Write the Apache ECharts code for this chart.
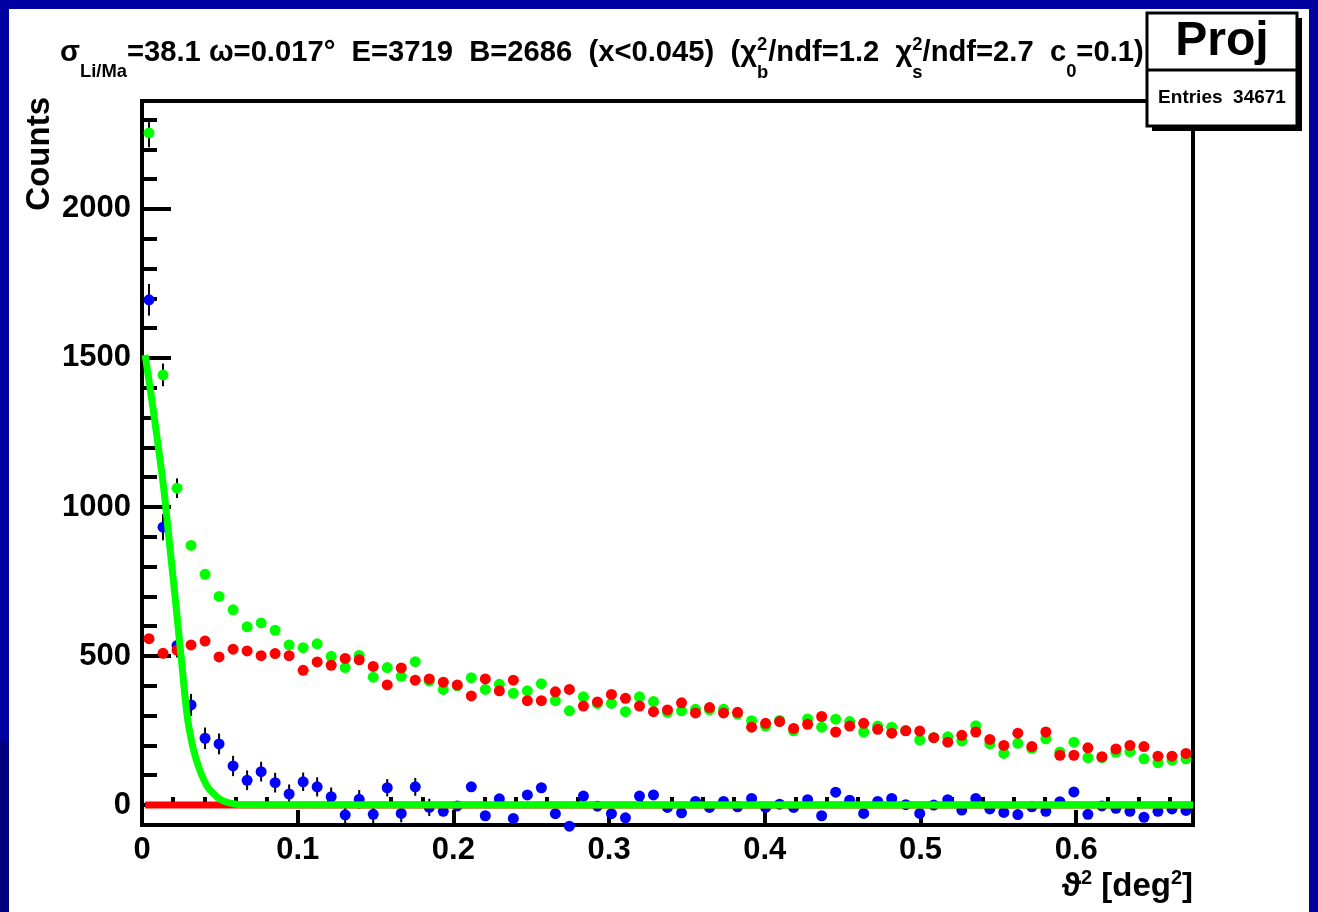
<!DOCTYPE html>
<html>
<head>
<meta charset="utf-8">
<script src="https://cdn.jsdelivr.net/npm/echarts@6/dist/echarts.min.js"></script>
<style>
  html, body { margin: 0; padding: 0; background: #0000a0; }
  #chart { width: 1318px; height: 912px; }
</style>
</head>
<body>
<div id="chart"></div>
<script>
// theta^2 distribution, 75 bins of 0.009 deg^2 from 0 to 0.675
const binWidth = 0.009;
const binStart = 0;

// green: on-source counts
const onCounts = [
  2255, 1443, 1063, 871, 774, 700, 655, 598, 611, 586,
  537, 528, 541, 499, 461, 502, 429, 461, 432, 481,
  416, 388, 400, 427, 388, 405, 375, 383, 407, 350,
  316, 363, 340, 341, 313, 363, 347, 311, 316, 321,
  319, 321, 305, 283, 265, 284, 249, 289, 261, 288,
  280, 245, 265, 261, 250, 218, 226, 229, 215, 266,
  205, 173, 207, 190, 222, 178, 211, 159, 159, 177,
  179, 155, 142, 151, 155
];
// red: background (off) counts
const offCounts = [
  558, 509, 520, 537, 550, 497, 523, 517, 501, 508,
  501, 452, 480, 469, 492, 487, 465, 403, 460, 419,
  423, 412, 403, 366, 423, 383, 419, 350, 350, 380,
  388, 332, 346, 371, 358, 332, 313, 319, 343, 309,
  327, 309, 311, 261, 274, 280, 257, 271, 297, 245,
  265, 274, 254, 241, 249, 248, 226, 211, 234, 245,
  220, 200, 241, 196, 245, 167, 167, 192, 162, 188,
  200, 196, 164, 164, 173
];
// blue: excess
const excessCounts = [
  1695, 932, 535, 336, 224, 205, 131, 83, 112, 75,
  37, 78, 61, 28, -33, 19, -31, 58, -28, 61,
  -8, -21, -3, 61, -36, 21, -45, 34, 58, -29,
  -71, 30, -4, -29, -43, 30, 34, -8, -26, 12,
  -8, 12, -6, 22, -8, 3, -8, 18, -36, 43,
  16, -28, 12, 22, 1, -28, 0, 18, -17, 22,
  -13, -25, -32, -6, -21, 11, 44, -31, -3, -11,
  -21, -41, -21, -13, -18
];
// visible error bars (first bins only)
const onErrors = [48, 38, 33];
const excessErrors = [
  53, 44, 40, 37, 36, 35, 34, 33, 33, 33,
  32, 31, 32, 31, 31, 31, 30, 29, 30, 30, 29
];

// fitted curves
const fitX = [0.002, 0.006, 0.010, 0.014, 0.018, 0.022, 0.026, 0.029, 0.032, 0.035,
              0.038, 0.042, 0.046, 0.050, 0.054, 0.058, 0.064, 0.675];
const fitTotal = [1510, 1370, 1220, 1060, 860, 660, 450, 300, 210, 150,
                  105, 62, 38, 20, 10, 5, 1, 0];
const fitBgX = [0.002, 0.675];
const fitBg = [0, 0];

const xMajor = [0, 0.1, 0.2, 0.3, 0.4, 0.5, 0.6];
const xMinor = [0.02, 0.04, 0.06, 0.08, 0.12, 0.14, 0.16, 0.18, 0.22, 0.24, 0.26, 0.28,
                0.32, 0.34, 0.36, 0.38, 0.42, 0.44, 0.46, 0.48, 0.52, 0.54, 0.56, 0.58,
                0.62, 0.64, 0.66];
const yMajor = [0, 500, 1000, 1500, 2000];
const yMinor = [100, 200, 300, 400, 600, 700, 800, 900, 1100, 1200, 1300, 1400,
                1600, 1700, 1800, 1900, 2100, 2200, 2300];

const FONT = '"Liberation Sans", Arial, sans-serif';

const binCenter = i => binStart + (i + 0.5) * binWidth;
const points = arr => arr.map((v, i) => [binCenter(i), v]);
const errBars = (vals, errs) => errs.map((e, i) => [binCenter(i), vals[i] - e, vals[i] + e]);

const measureCtx = document.createElement('canvas').getContext('2d');
function textWidth(t, size) {
  measureCtx.font = 'bold ' + size + 'px ' + FONT;
  return measureCtx.measureText(t).width;
}
// lay out a row of text pieces; a piece is [text, size, dy] or a stacked list of them
function textRun(pieces, x, baseline) {
  const els = [];
  let cx = x;
  pieces.forEach(p => {
    const stack = Array.isArray(p[0]) ? p : [p];
    let w = 0;
    stack.forEach(([t, size, dy]) => {
      els.push({
        type: 'text', x: cx, y: baseline + dy + 0.2 * size, z: 20,
        style: { text: t, font: 'bold ' + size + 'px ' + FONT, fill: '#000',
                 align: 'left', verticalAlign: 'bottom' }
      });
      w = Math.max(w, textWidth(t, size));
    });
    cx += w;
  });
  return { els, width: cx - x };
}

const F = 29.2, f = 18.4;
const titleRow = textRun([
  ['σ', F, 0], ['Li/Ma', f, 15],
  ['=38.1 ω=0.017°  E=3719  B=2686  (x<0.045)  (χ', F, 0],
  [['2', f, -12], ['b', f, 16]],
  ['/ndf=1.2  χ', F, 0],
  [['2', f, -12], ['s', f, 16]],
  ['/ndf=2.7  c', F, 0], ['0', f, 15], ['=0.1)', F, 0]
], 60, 62);

const XF = 33, xf = 20;
const xTitlePieces = [['ϑ', XF, 0], ['2', xf, -13], [' [deg', XF, 0], ['2', xf, -13], [']', XF, 0]];
const xTitleW = textRun(xTitlePieces, 0, 0).width;
const xTitleRow = textRun(xTitlePieces, 1193 - xTitleW, 897);

const chart = echarts.init(document.getElementById('chart'));

const tickStyle = { color: '#000', width: 4 };
const labelStyle = { color: '#000', fontSize: 31, fontWeight: 'bold', fontFamily: FONT };

chart.setOption({
  animation: false,
  backgroundColor: '#0000a0',
  grid: {
    left: 142, top: 101, width: 1051, height: 724,
    show: true, borderColor: '#000', borderWidth: 4, backgroundColor: 'transparent'
  },
  xAxis: [{
    type: 'value', min: 0, max: 0.675,
    axisLine: { show: true, onZero: false, lineStyle: tickStyle },
    axisTick: { show: true, inside: true, length: 15, lineStyle: tickStyle, customValues: xMajor },
    axisLabel: Object.assign({ margin: 10, customValues: xMajor,
      formatter: v => (v === 0 ? '0' : String(+v.toFixed(1))) }, labelStyle),
    splitLine: { show: false }
  }, {
    type: 'value', min: 0, max: 0.675, position: 'bottom',
    axisLine: { show: false }, axisLabel: { show: false }, splitLine: { show: false },
    axisTick: { show: true, inside: true, length: 8, lineStyle: tickStyle, customValues: xMinor }
  }],
  yAxis: [{
    type: 'value', min: -67, max: 2362,
    axisLine: { show: true, onZero: false, lineStyle: tickStyle },
    axisTick: { show: true, inside: true, length: 29, lineStyle: tickStyle, customValues: yMajor },
    axisLabel: Object.assign({ margin: 11, customValues: yMajor, formatter: v => String(v) }, labelStyle),
    splitLine: { show: false }
  }, {
    type: 'value', min: -67, max: 2362, position: 'left',
    axisLine: { show: false }, axisLabel: { show: false }, splitLine: { show: false },
    axisTick: { show: true, inside: true, length: 15, lineStyle: tickStyle, customValues: yMinor }
  }],
  graphic: [
    { type: 'rect', z: -10, shape: { x: 9, y: 9, width: 1300, height: 903 }, style: { fill: '#fff' } },
    { type: 'rect', z: -10, shape: { x: 0, y: 742, width: 9, height: 170 }, style: { fill: '#000080' } },
    // stats box
    { type: 'rect', z: 30, shape: { x: 1152, y: 18, width: 150, height: 113 }, style: { fill: '#000' } },
    { type: 'rect', z: 31, shape: { x: 1147, y: 13, width: 150, height: 113 },
      style: { fill: '#fff', stroke: '#000', lineWidth: 3 } },
    { type: 'line', z: 32, shape: { x1: 1147, y1: 70, x2: 1297, y2: 70 }, style: { stroke: '#000', lineWidth: 3 } },
    { type: 'text', z: 32, x: 1222, y: 42,
      style: { text: 'Proj', font: 'bold 48px ' + FONT, fill: '#000', align: 'center', verticalAlign: 'middle' } },
    { type: 'text', z: 32, x: 1222, y: 98,
      style: { text: 'Entries  34671', font: 'bold 19px ' + FONT, fill: '#000', align: 'center', verticalAlign: 'middle' } },
    // y axis title
    { type: 'text', z: 20, x: 40, y: 97, rotation: Math.PI / 2,
      style: { text: 'Counts', font: 'bold 33px ' + FONT, fill: '#000', align: 'right', verticalAlign: 'middle' } }
  ].concat(titleRow.els, xTitleRow.els),
  series: [
    {
      type: 'custom', z: 1, clip: false,
      data: errBars(excessCounts, excessErrors).concat(errBars(onCounts, onErrors)),
      renderItem: (params, api) => {
        const p1 = api.coord([api.value(0), api.value(1)]);
        const p2 = api.coord([api.value(0), api.value(2)]);
        return { type: 'line', shape: { x1: p1[0], y1: p1[1], x2: p2[0], y2: p2[1] },
                 style: { stroke: '#000', lineWidth: 2 } };
      }
    },
    { name: 'excess', type: 'scatter', z: 2, clip: false, symbolSize: 11,
      itemStyle: { color: '#0000ff', opacity: 1 }, data: points(excessCounts) },
    { name: 'on', type: 'scatter', z: 3, clip: false, symbolSize: 11,
      itemStyle: { color: '#00ff00', opacity: 1 }, data: points(onCounts) },
    { name: 'off', type: 'scatter', z: 4, clip: false, symbolSize: 11,
      itemStyle: { color: '#ff0000', opacity: 1 }, data: points(offCounts) },
    { name: 'bg fit', type: 'line', z: 5, symbol: 'none',
      lineStyle: { color: '#ff0000', width: 7 }, data: fitBgX.map((x, i) => [x, fitBg[i]]) },
    { name: 'total fit', type: 'line', z: 6, symbol: 'none', smooth: 0.3,
      lineStyle: { color: '#00ff00', width: 7 }, data: fitX.map((x, i) => [x, fitTotal[i]]) }
  ]
});
</script>
</body>
</html>
